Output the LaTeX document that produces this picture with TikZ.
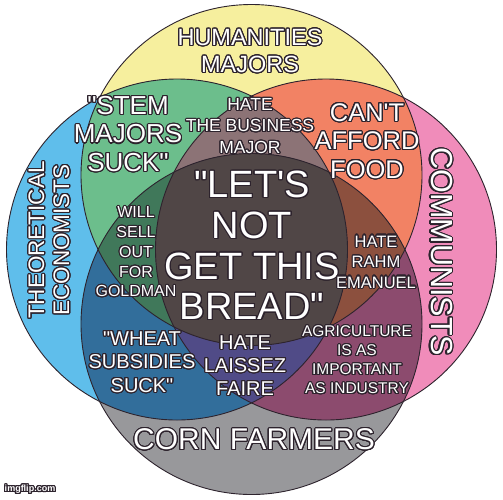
\documentclass[tikz,border=0pt]{standalone}
\usepackage{fontspec}
\setmainfont{Liberation Sans}[Ligatures=TeXOff]
\usepackage{contour}
\contourlength{1.1pt}
\contournumber{24}

\definecolor{rim}{RGB}{45,35,45}
\definecolor{humYellow}{RGB}{246,239,158}
\definecolor{ecoBlue}{RGB}{95,190,235}
\definecolor{comPink}{RGB}{240,140,186}
\definecolor{cornGray}{RGB}{152,152,155}
\definecolor{stemGreen}{RGB}{108,190,140}
\definecolor{foodOrange}{RGB}{242,130,100}
\definecolor{bizMauve}{RGB}{140,115,118}
\definecolor{sellGreen}{RGB}{64,120,90}
\definecolor{rahmBrown}{RGB}{140,80,62}
\definecolor{wheatBlue}{RGB}{50,110,155}
\definecolor{laisPurple}{RGB}{80,75,135}
\definecolor{agriPlum}{RGB}{140,75,110}
\definecolor{breadDark}{RGB}{80,70,70}

\newcommand{\ol}[1]{\contour{rim}{#1}}
\newcommand{\fs}[2]{\fontsize{#1}{#2}\selectfont}

\begin{document}
\begin{tikzpicture}[
    x=1pt,
    y=-1pt,
    lbl/.style={text=white, align=center, inner sep=0pt},
    ring/.style={draw=rim, line width=0.9pt}
  ]
    \useasboundingbox (0,0) rectangle (503,499);
    \fill[white] (0,0) rectangle (503,499);

    % Circulos (R = 170.5, desplazados 74.5 del centro)
    \def\hum{(251.5,175) circle (170.5)}
    \def\eco{(177,249.5) circle (170.5)}
    \def\com{(326,249.5) circle (170.5)}
    \def\corn{(251.5,324) circle (170.5)}

    \fill[humYellow] \hum;
    \fill[ecoBlue] \eco;
    \fill[comPink] \com;
    \fill[cornGray] \corn;

    % --- Dobles ---
    \begin{scope}\clip \hum; \fill[stemGreen] \eco; \end{scope}
    \begin{scope}\clip \hum; \fill[foodOrange] \com; \end{scope}
    \begin{scope}\clip \eco; \fill[wheatBlue] \corn; \end{scope}
    \begin{scope}\clip \com; \fill[agriPlum] \corn; \end{scope}

    % --- Triples ---
    \begin{scope}\clip \hum; \clip \eco; \fill[bizMauve] \com; \end{scope}
    \begin{scope}\clip \hum; \clip \eco; \fill[sellGreen] \corn; \end{scope}
    \begin{scope}\clip \hum; \clip \com; \fill[rahmBrown] \corn; \end{scope}
    \begin{scope}\clip \eco; \clip \com; \fill[laisPurple] \corn; \end{scope}

    % --- Centro ---
    \begin{scope}\clip \hum; \clip \eco; \clip \com; \fill[breadDark] \corn; \end{scope}

    \draw[ring] \hum;
    \draw[ring] \eco;
    \draw[ring] \com;
    \draw[ring] \corn;

    % Textos
    \node[lbl, font=\fs{23.5}{27}] (humanities) at (250,51.5)
      {\ol{HUMANITIES}\\\ol{MAJORS}};
    \node[lbl, font=\fs{22.5}{25}, rotate=90] (theo) at (37,240) {\ol{THEORETICAL}};
    \node[lbl, font=\fs{22.5}{25}, rotate=90] (econ) at (62,240) {\ol{ECONOMISTS}};
    \node[lbl, font=\fs{30.5}{34}, rotate=-90] (communists) at (441,252) {\ol{COMMUNISTS}};
    \node[lbl, font=\fs{30}{34}] (corn) at (254,440) {\ol{CORN FARMERS}};

    \node[lbl, font=\fs{26}{28.5}] (stem) at (128,134.5)
      {\ol{"STEM}\\\ol{MAJORS}\\\ol{SUCK"}};
    \node[lbl, font=\fs{17.5}{21.5}] (business) at (250,126.5)
      {\ol{HATE}\\\ol{THE BUSINESS}\\\ol{MAJOR}};
    \node[lbl, font=\fs{25.5}{28.5}] (food) at (367,141.5)
      {\ol{CAN'T}\\\ol{AFFORD}\\\ol{FOOD}};
    \node[lbl, font=\fs{38}{40.7}] (bread) at (252,246)
      {\ol{"LET'S}\\\ol{NOT}\\\ol{GET THIS}\\\ol{BREAD"}};
    \node[lbl, font=\fs{16}{19.75}] (goldman) at (136,252.5)
      {\ol{WILL}\\\ol{SELL}\\\ol{OUT}\\\ol{FOR}\\\ol{GOLDMAN}};
    \node[lbl, font=\fs{16.5}{20.5}] (rahm) at (376,262.5)
      {\ol{HATE}\\\ol{RAHM}\\\ol{EMANUEL}};
    \node[lbl, font=\fs{20}{23.5}] (wheat) at (142,362.5)
      {\ol{"WHEAT}\\\ol{SUBSIDIES}\\\ol{SUCK"}};
    \node[lbl, font=\fs{20}{23}] (laissez) at (245,366)
      {\ol{HATE}\\\ol{LAISSEZ}\\\ol{FAIRE}};
    \node[lbl, font=\fs{15.5}{19}] (agri) at (357,360.5)
      {\ol{AGRICULTURE}\\\ol{IS AS}\\\ol{IMPORTANT}\\\ol{AS INDUSTRY}};

    \node[lbl, font=\fs{9}{10}\bfseries] (imgflip) at (30,490) {\ol{imgflip.com}};
  \end{tikzpicture}
\end{document}
